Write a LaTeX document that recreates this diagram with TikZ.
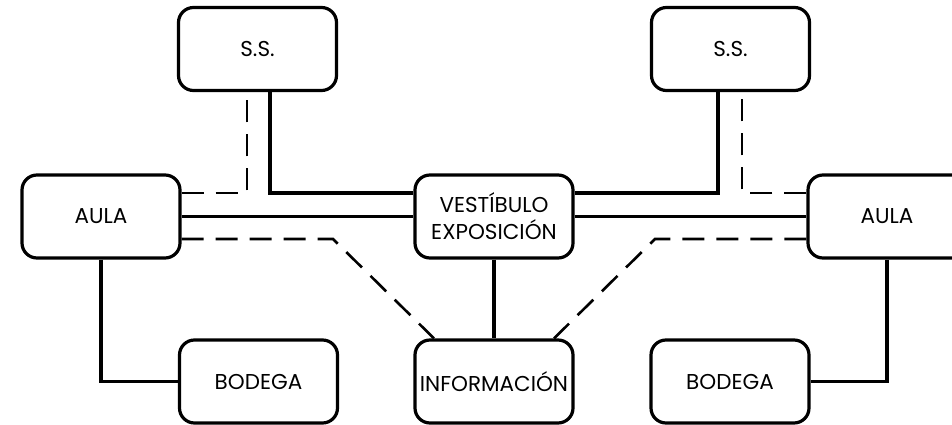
\documentclass[tikz,border=0pt]{standalone}
\usepackage{fontspec}
\setmainfont{Poppins}
\begin{document}
\begin{tikzpicture}[x=1pt,y=-1pt,
  room/.style={draw, line width=3.2pt, rounded corners=15pt, minimum width=158pt,
    minimum height=83pt, inner sep=0pt, align=center,
    font=\fontsize{21.5}{27}\selectfont},
  solidlink/.style={line width=3.2pt},
  dashlink/.style={line width=2.6pt, dash pattern=on 22pt off 12pt}]
\useasboundingbox (0,0) rectangle (952,425);
\clip (0,0) rectangle (952,425);
\node[room] (ssL) at (257.5,49) {S.S.};
\node[room] (ssR) at (730.5,49) {S.S.};
\node[room] (aulaL) at (101,216.5) {AULA};
\node[room] (vest) at (494,216.5) {VESTÍBULO\\EXPOSICIÓN};
\node[room] (aulaR) at (887,216.5) {AULA};
\node[room] (bodL) at (258.5,381.5) {BODEGA};
\node[room] (info) at (494,381.5) {INFORMACIÓN};
\node[room] (bodR) at (730,381.5) {BODEGA};
% solid connectors
\draw[solidlink] (aulaL) -- (vest);
\draw[solidlink] (vest) -- (aulaR);
\draw[solidlink] (vest) -- (info);
\draw[solidlink] ([yshift=23.5pt]vest.west) -| ([xshift=12.5pt]ssL.south);
\draw[solidlink] ([yshift=23.5pt]vest.east) -| ([xshift=-12.5pt]ssR.south);
\draw[solidlink] (aulaL.south) |- (bodL.west);
\draw[solidlink] (aulaR.south) |- (bodR.east);
% dashed connectors
\coordinate (kL) at (333,239);
\coordinate (kR) at (655,239);
\draw[dashlink] ([yshift=23.5pt]aulaL.east) -| ([xshift=-10.5pt]ssL.south);
\draw[dashlink] ([yshift=23.5pt]aulaR.west) -| ([xshift=11.5pt]ssR.south);
\draw[dashlink] ([yshift=-22.5pt]aulaL.east) -- (kL) -- ([xshift=-60pt]info.north);
\draw[dashlink] ([yshift=-22.5pt]aulaR.west) -- (kR) -- ([xshift=60pt]info.north);
\end{tikzpicture}
\end{document}
